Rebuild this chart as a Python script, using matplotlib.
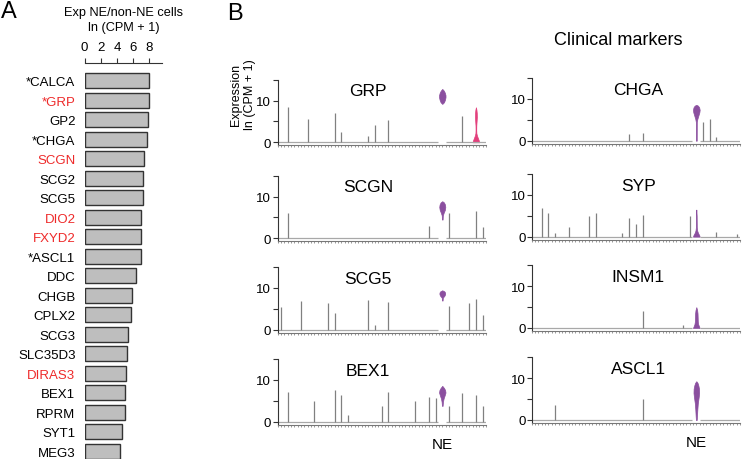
import numpy as np
import matplotlib.pyplot as plt

plt.rcParams['font.family'] = ['Liberation Sans', 'DejaVu Sans']

W, H = 742, 460

# ---- panel A data ----
genes = ['*CALCA', '*GRP', 'GP2', '*CHGA', 'SCGN', 'SCG2', 'SCG5', 'DIO2', 'FXYD2', '*ASCL1',
         'DDC', 'CHGB', 'CPLX2', 'SCG3', 'SLC35D3', 'DIRAS3', 'BEX1', 'RPRM', 'SYT1', 'MEG3']
ratio = [8.0, 7.9, 7.85, 7.65, 7.35, 7.2, 7.2, 7.0, 6.95, 6.9,
         6.4, 5.9, 5.7, 5.4, 5.2, 5.1, 5.0, 5.0, 4.6, 4.35]
red_genes = ['*GRP', 'SCGN', 'DIO2', 'FXYD2', 'DIRAS3']

# ---- panel B data ----
n_types = 31
ne_pos = 24
markers = ['GRP', 'CHGA', 'SCGN', 'SYP', 'SCG5', 'INSM1', 'BEX1', 'ASCL1']

# max expression of sparse (non-NE) cell types
grp_pos = [1, 4, 8, 9, 13, 14, 16, 27]
grp_val = [8.4, 5.6, 7.0, 2.5, 1.4, 4.2, 5.4, 6.4]
chga_pos = [14, 16, 25, 26, 27]
chga_val = [1.6, 1.9, 4.6, 5.3, 0.8]
scgn_pos = [1, 22, 25, 29, 30]
scgn_val = [6.1, 3.0, 6.1, 6.5, 2.8]
syp_pos = [1, 2, 3, 5, 8, 9, 13, 14, 15, 16, 23, 27, 30]
syp_val = [6.8, 5.6, 0.8, 2.4, 4.9, 5.7, 0.9, 4.4, 3.0, 5.3, 5.0, 1.2, 0.6]
scg5_pos = [0, 3, 7, 8, 13, 14, 16, 25, 28, 29, 30]
scg5_val = [5.4, 7.0, 6.4, 4.0, 7.2, 1.1, 6.6, 5.6, 6.3, 7.3, 3.5]
insm1_pos = [16, 22]
insm1_val = [4.0, 0.7]
bex1_pos = [1, 5, 8, 9, 10, 15, 16, 20, 22, 23, 25, 27, 29, 30]
bex1_val = [7.2, 5.0, 7.5, 6.5, 1.5, 3.8, 7.1, 4.9, 6.0, 5.8, 3.8, 7.0, 6.4, 3.8]
ascl1_pos = [3, 16]
ascl1_val = [3.5, 5.0]

# NE violin profiles: expression level and half width (in cell-type units)
grp_ne_y = [9.2, 9.6, 10.2, 10.8, 11.3, 11.9, 12.4, 12.8]
grp_ne_w = [0.0, 0.25, 0.4, 0.48, 0.48, 0.38, 0.22, 0.0]
chga_ne_y = [0.0, 4.5, 5.2, 6.0, 6.8, 7.4, 8.0, 8.4, 8.6]
chga_ne_w = [0.06, 0.07, 0.15, 0.3, 0.45, 0.5, 0.42, 0.25, 0.0]
scgn_ne_y = [4.5, 5.5, 6.1, 6.8, 7.5, 8.1, 8.6, 8.9]
scgn_ne_w = [0.05, 0.08, 0.2, 0.38, 0.45, 0.4, 0.25, 0.0]
syp_ne_y = [0.0, 0.4, 0.9, 1.5, 2.2, 3.5, 5.0, 6.5]
syp_ne_w = [0.5, 0.42, 0.25, 0.12, 0.07, 0.06, 0.05, 0.0]
scg5_ne_y = [7.0, 7.7, 8.1, 8.5, 8.9, 9.2, 9.45]
scg5_ne_w = [0.05, 0.08, 0.3, 0.42, 0.42, 0.3, 0.0]
insm1_ne_y = [0.0, 0.4, 0.9, 1.5, 2.5, 3.5, 4.3, 5.0]
insm1_ne_w = [0.5, 0.4, 0.28, 0.22, 0.2, 0.18, 0.12, 0.0]
bex1_ne_y = [3.8, 4.8, 5.6, 6.3, 7.0, 7.6, 8.1, 8.6]
bex1_ne_w = [0.05, 0.1, 0.2, 0.35, 0.48, 0.42, 0.25, 0.0]
ascl1_ne_y = [0.0, 1.0, 2.5, 4.0, 5.5, 6.5, 7.5, 8.3, 8.9, 9.3]
ascl1_ne_w = [0.06, 0.1, 0.15, 0.22, 0.35, 0.42, 0.4, 0.3, 0.18, 0.0]
# second GRP-expressing population (pink violin)
grp_pink_pos = 29
grp_pink_y = [0.0, 0.5, 1.0, 1.6, 2.2, 3.0, 4.0, 5.0, 6.0, 7.0, 7.8, 8.4]
grp_pink_w = [0.5, 0.42, 0.3, 0.16, 0.07, 0.05, 0.06, 0.1, 0.14, 0.13, 0.08, 0.0]

purple = '#8b4f9f'
pink = '#e33f7c'
red = '#ee2a2a'


def px_axes(fig, left, top, right, bottom):
    return fig.add_axes([left / W, 1 - bottom / H, (right - left) / W, (bottom - top) / H])


fig = plt.figure(figsize=(W / 100, H / 100), dpi=100)

# ---------------- panel A ----------------
axA = px_axes(fig, 84.5, 64, 162, 460)
ypos = np.arange(len(genes))
axA.barh(ypos, ratio, height=0.77, color='#bebebe', edgecolor='#333333', linewidth=1.0)
axA.set_xlim(0, 9.54)
axA.set_ylim(19.41, -0.92)
for s in ['left', 'right', 'bottom']:
    axA.spines[s].set_visible(False)
axA.spines['top'].set_color('#333333')
axA.spines['top'].set_linewidth(0.8)
axA.xaxis.tick_top()
axA.set_xticks([0, 2, 4, 6, 8])
axA.tick_params(axis='x', length=3.5, width=0.8, color='#333333', pad=4, labelsize=9.5)
axA.set_yticks(ypos)
axA.set_yticklabels(genes, fontsize=9.5)
axA.tick_params(axis='y', length=0, pad=6.5)
for lab in axA.get_yticklabels():
    if lab.get_text() in red_genes:
        lab.set_color(red)
fig.text(124 / W, 1 - 20.5 / H, 'Exp NE/non-NE cells\nln (CPM + 1)', ha='center', va='center',
         fontsize=9.2, linespacing=1.4)
fig.text(1 / W, 1 - 18.3 / H, 'A', fontsize=17, va='baseline')
fig.text(227 / W, 1 - 20 / H, 'B', fontsize=17, va='baseline')
fig.text(618 / W, 1 - 45 / H, 'Clinical markers', fontsize=13, ha='center', va='baseline')
fig.text(243 / W, 1 - 95 / H, 'Expression\nln (CPM + 1)', fontsize=9, rotation=90,
         ha='center', va='center', linespacing=1.25)

# ---------------- panel B ----------------
pos_list = [grp_pos, chga_pos, scgn_pos, syp_pos, scg5_pos, insm1_pos, bex1_pos, ascl1_pos]
val_list = [grp_val, chga_val, scgn_val, syp_val, scg5_val, insm1_val, bex1_val, ascl1_val]
viol_y = [grp_ne_y, chga_ne_y, scgn_ne_y, syp_ne_y, scg5_ne_y, insm1_ne_y, bex1_ne_y, ascl1_ne_y]
viol_w = [grp_ne_w, chga_ne_w, scgn_ne_w, syp_ne_w, scg5_ne_w, insm1_ne_w, bex1_ne_w, ascl1_ne_w]

col_left = [277.5, 531.7]
col_right = [486, 740]
col_title_x = [0.435, 0.511]
row_zero = [[143.3, 141.7], [239.3, 237.7], [330.7, 329.0], [422.7, 421.0]]
ppu = 4.17
ymin, ymax = -0.7, 15

for k, gene in enumerate(markers):
    r, c = divmod(k, 2)
    y0 = row_zero[r][c]
    ax = px_axes(fig, col_left[c], y0 - ymax * ppu, col_right[c], y0 - ymin * ppu)
    ax.set_xlim(-0.5, n_types - 0.5)
    ax.set_ylim(ymin, ymax)

    # zero baseline of all sparse cell types
    ax.hlines(0, -0.5, ne_pos - 0.6, color='#a8a8a8', lw=0.9)
    ax.hlines(0, ne_pos + 0.6, n_types - 0.5, color='#a8a8a8', lw=0.9)
    ax.vlines(pos_list[k], 0, val_list[k], color='#808080', lw=0.9)

    vy = np.array(viol_y[k])
    vw = np.array(viol_w[k])
    ax.fill_betweenx(vy, ne_pos - vw, ne_pos + vw, color=purple, lw=0.5, edgecolor=purple)
    if gene == 'GRP':
        py = np.array(grp_pink_y)
        pw = np.array(grp_pink_w)
        ax.fill_betweenx(py, grp_pink_pos - pw, grp_pink_pos + pw, color=pink, lw=0.5,
                         edgecolor=pink)

    ax.text(-0.5 + col_title_x[c] * n_types, 11.3, gene, fontsize=12.5, ha='center',
            va='baseline')

    for s in ['top', 'right']:
        ax.spines[s].set_visible(False)
    ax.spines['left'].set_color('#333333')
    ax.spines['left'].set_linewidth(0.8)
    ax.spines['bottom'].set_color('#777777')
    ax.spines['bottom'].set_linewidth(0.8)
    ax.set_yticks([0, 5, 10, 15])
    ax.set_yticklabels(['0', '', '10', ''])
    ax.tick_params(axis='y', length=3.5, width=0.8, color='#333333', pad=1, labelsize=9.5)
    ax.set_xticks(np.arange(-0.5, n_types, 0.5))
    ax.set_xticklabels([])
    ax.tick_params(axis='x', length=1.6, width=0.6, color='#888888')
    ax.patch.set_alpha(0)

    if r == 3:
        ax.text(ne_pos, ymin - 23.3 / ppu, 'NE', fontsize=11, ha='center', va='baseline',
                clip_on=False)

fig.savefig('out.png', dpi=100)
